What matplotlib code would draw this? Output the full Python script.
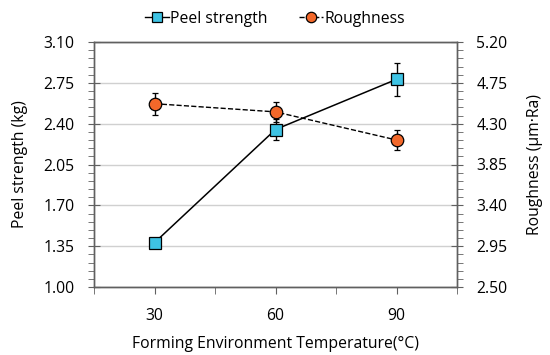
import numpy as np
import matplotlib
matplotlib.use("Agg")
import matplotlib.pyplot as plt
from matplotlib.lines import Line2D
from matplotlib.ticker import FixedLocator, FormatStrFormatter

plt.rcParams['font.family'] = ['Open Sans', 'DejaVu Sans']

temps = [30, 60, 90]
peel = [1.38, 2.35, 2.78]
peel_err = [0.03, 0.09, 0.14]
rough = [4.52, 4.43, 4.12]
rough_err = [0.12, 0.11, 0.11]

left_ticks = [1.00, 1.35, 1.70, 2.05, 2.40, 2.75, 3.10]
right_ticks = [2.50, 2.95, 3.40, 3.85, 4.30, 4.75, 5.20]

spine_color = "#606060"
fs = 11.3

fig = plt.figure(figsize=(5.5, 3.55), dpi=100)
ax = fig.add_axes([94/550, 1-287/355, (457-94)/550, (287-42)/355])
ax2 = ax.twinx()

ax.errorbar(temps, peel, yerr=peel_err, color="black", lw=1.1, marker="s", ms=9,
            mfc="#3ec3e4", mec="black", mew=0.9, capsize=2.5, elinewidth=1.0,
            capthick=1.0, zorder=3)
eb = ax2.errorbar(temps, rough, yerr=rough_err, color="black", lw=1.0, ls="--", marker="o", ms=9,
                  mfc="#f2682a", mec="black", mew=0.9, capsize=2.5, elinewidth=1.0,
                  capthick=1.0, zorder=3)
eb[-1][0].set_linestyle("-")

ax.set_xlim(15, 105)
ax.set_ylim(left_ticks[0], left_ticks[-1])
ax2.set_ylim(right_ticks[0], right_ticks[-1])
ax.xaxis.set_major_locator(FixedLocator(temps))
ax.xaxis.set_minor_locator(FixedLocator([15, 45, 75, 105]))
ax.yaxis.set_major_locator(FixedLocator(left_ticks))
ax.yaxis.set_minor_locator(FixedLocator(np.linspace(left_ticks[0], left_ticks[-1], 31)))
ax2.yaxis.set_major_locator(FixedLocator(right_ticks))
ax2.yaxis.set_minor_locator(FixedLocator(np.linspace(right_ticks[0], right_ticks[-1], 31)))
ax.yaxis.set_major_formatter(FormatStrFormatter("%.2f"))
ax2.yaxis.set_major_formatter(FormatStrFormatter("%.2f"))

ax.grid(axis="y", color="#d0d0d0", lw=1.0)
ax.set_axisbelow(True)

for a in (ax, ax2):
    for s in a.spines.values():
        s.set_color(spine_color)
        s.set_linewidth(1.0)
for a in (ax, ax2):
    a.tick_params(axis="y", which="major", direction="inout", length=8, color=spine_color, labelsize=fs, pad=10)
    a.tick_params(axis="y", which="minor", direction="out", length=4, color=spine_color)
ax.tick_params(axis="x", which="major", direction="out", length=5, color=spine_color, labelsize=fs, pad=10)
ax.tick_params(axis="x", which="minor", direction="out", length=5, color=spine_color)

ax.set_xlabel("Forming Environment Temperature(°C)", fontsize=fs, labelpad=9)
ax.set_ylabel("Peel strength (kg)", fontsize=fs, labelpad=11)
ax2.set_ylabel("Roughness (μm·Ra)", fontsize=fs, labelpad=14)

h1 = Line2D([], [], color="black", lw=1.0, marker="s", ms=7, mfc="#3ec3e4", mec="black", mew=0.9)
h2 = Line2D([], [], color="black", lw=1.0, ls="--", marker="o", ms=7.5, mfc="#f2682a", mec="black", mew=0.9)
fig.legend([h1, h2], ["Peel strength", "Roughness"], loc="upper center",
           bbox_to_anchor=(0.5, 1.01), ncol=2, frameon=False, fontsize=fs,
           handlelength=1.5, handletextpad=0.1, columnspacing=2.0)

fig.savefig("out.png", dpi=100)
